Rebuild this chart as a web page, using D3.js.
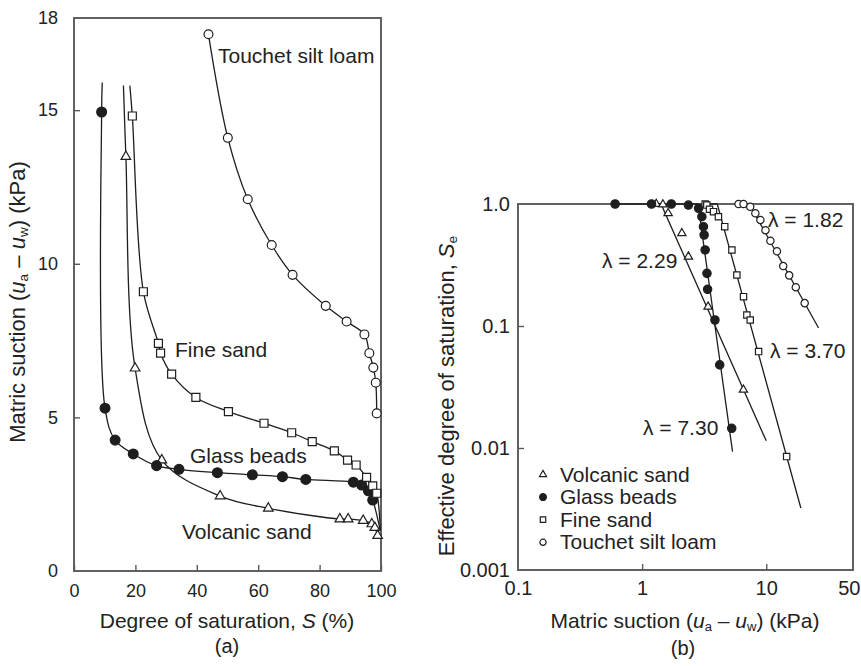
<!DOCTYPE html>
<html>
<head>
<meta charset="utf-8">
<script src="https://cdn.jsdelivr.net/npm/d3@7"></script>
<style>
  body { margin: 0; background: #fff; }
  svg { display: block; }
  text { font-family: "Liberation Sans", Arial, Helvetica, sans-serif; fill: #222; }
</style>
</head>
<body>
<svg id="fig" width="861" height="666"></svg>
<script>
// ---------- (a) matric suction vs degree of saturation ----------
const soilNames = ["Volcanic sand", "Glass beads", "Fine sand", "Touchet silt loam"];

const satVolcanic = [16.9, 19.9, 28.6, 47.6, 63.3, 86.6, 89.3, 94.2, 97.0, 98.0, 98.9];
const sucVolcanic = [13.49, 6.6, 3.61, 2.44, 2.04, 1.69, 1.69, 1.64, 1.53, 1.41, 1.15];

const satGlass = [9.0, 10.1, 13.4, 19.3, 26.9, 34.2, 46.7, 58.1, 67.9, 75.5, 91.0, 93.7, 95.9, 97.3];
const sucGlass = [14.94, 5.30, 4.26, 3.81, 3.43, 3.31, 3.20, 3.13, 3.07, 2.98, 2.89, 2.80, 2.61, 2.31];

const satFine = [19.0, 22.6, 27.5, 28.2, 31.8, 39.7, 50.3, 61.9, 70.9, 77.6, 84.8, 89.1, 91.9, 95.3, 97.3, 98.6];
const sucFine = [14.81, 9.09, 7.41, 7.09, 6.41, 5.65, 5.19, 4.81, 4.50, 4.21, 3.91, 3.61, 3.45, 3.05, 2.77, 2.53];

const satTouchet = [43.8, 50.1, 56.6, 64.4, 71.2, 82.0, 88.8, 94.6, 96.2, 97.5, 98.3, 98.6];
const sucTouchet = [17.47, 14.10, 12.10, 10.61, 9.64, 8.63, 8.12, 7.70, 7.09, 6.62, 6.13, 5.13];

// where each drawn curve continues beyond the measured points: [S, suction]
const curveHeads = [[16.1, 15.8], [9.2, 15.9], [18.2, 15.8], null];
const curveTails = [null, [99.7, 1.35], [99.8, 1.3], null];

const satTicks = [0, 20, 40, 60, 80, 100];
const suctionTicks = [0, 5, 10, 15, 18];

// ---------- (b) effective saturation vs matric suction ----------
const psiVolcanic = [1.30, 1.47, 1.62, 2.09, 2.36, 3.40, 6.55];
const seVolcanic  = [1.0, 0.99, 0.84, 0.575, 0.37, 0.144, 0.030];

const psiGlass = [0.606, 1.19, 1.72, 2.36, 2.85, 3.03, 3.12, 3.16, 3.22, 3.33, 3.37, 3.86, 4.22, 5.27];
const seGlass  = [1.0, 1.0, 1.0, 0.98, 0.922, 0.787, 0.652, 0.557, 0.42, 0.27, 0.20, 0.112, 0.048, 0.0145];

const psiFine = [3.22, 3.32, 3.49, 3.76, 4.12, 4.63, 5.29, 5.80, 6.56, 6.98, 7.43, 8.68, 14.6];
const seFine  = [1.0, 0.98, 0.905, 0.865, 0.787, 0.652, 0.42, 0.262, 0.174, 0.123, 0.112, 0.0617, 0.0085];

const psiTouchet = [5.98, 6.56, 7.43, 8.17, 8.97, 9.86, 10.8, 12.2, 13.7, 15.3, 17.3, 20.4];
const seTouchet  = [1.0, 1.0, 0.95, 0.84, 0.74, 0.61, 0.50, 0.41, 0.31, 0.26, 0.208, 0.154];

// Brooks–Corey fits: pore-size index, air-entry suction (kPa), last suction drawn (kPa)
const poreIndex   = [2.29, 7.30, 3.70, 1.82];
const airEntry    = [1.42, 2.82, 4.03, 7.30];
const fitEnd      = [10.0, 5.35, 19.0, 26.4];

const psiTicks = [0.1, 1, 10, 50];
const seTicks = [0.001, 0.01, 0.1, 1.0];

// ---------- drawing ----------
const svg = d3.select("#fig");
const ink = "#1e1e1e";
const frameColor = "#5a5a5a";

const symbolTypes = [d3.symbolTriangle, d3.symbolCircle, d3.symbolSquare, d3.symbolCircle];
const symbolFill = ["#fff", ink, "#fff", "#fff"];

function marker(g, type, fill, size) {
  return g.append("path")
    .attr("d", d3.symbol().type(type).size(size)())
    .attr("fill", fill)
    .attr("stroke", ink)
    .attr("stroke-width", 1.2);
}

// ----- panel (a)
const xA = d3.scaleLinear().domain([0, 100]).range([74, 381]);
const yA = d3.scaleLinear().domain([0, 18]).range([571, 18]);

const gA = svg.append("g");

const axA_x = gA.append("g").attr("transform", `translate(0,${yA(0)})`)
  .call(d3.axisBottom(xA).tickValues(satTicks).tickSize(-6).tickPadding(13).tickFormat(d3.format("d")));
const axA_y = gA.append("g").attr("transform", `translate(${xA(0)},0)`)
  .call(d3.axisLeft(yA).tickValues(suctionTicks).tickSize(-6).tickPadding(16).tickFormat(d3.format("d")));
[axA_x, axA_y].forEach(a => {
  a.select(".domain").remove();
  a.selectAll(".tick line").attr("stroke", frameColor).attr("stroke-width", 1.4);
  a.selectAll(".tick text").attr("font-size", 18).attr("fill", "#222");
});
axA_y.selectAll(".tick").filter(d => d === 0 || d === 18).select("line").remove();

gA.append("rect")
  .attr("x", xA(0)).attr("y", yA(18))
  .attr("width", xA(100) - xA(0)).attr("height", yA(0) - yA(18))
  .attr("fill", "none").attr("stroke", frameColor).attr("stroke-width", 1.9);

const seriesA = [
  d3.zip(satVolcanic, sucVolcanic),
  d3.zip(satGlass, sucGlass),
  d3.zip(satFine, sucFine),
  d3.zip(satTouchet, sucTouchet)
];

const lineA = d3.line()
  .x(d => xA(d[0])).y(d => yA(d[1]))
  .curve(d3.curveCatmullRom.alpha(0.5));

seriesA.forEach((pts, i) => {
  const path = [];
  if (curveHeads[i]) path.push(curveHeads[i]);
  path.push(...pts);
  if (curveTails[i]) path.push(curveTails[i]);
  gA.append("path").attr("d", lineA(path))
    .attr("fill", "none").attr("stroke", ink).attr("stroke-width", 1.3);
});

const sizeA = [40, 76, 64, 62];
seriesA.forEach((pts, i) => {
  pts.forEach(p => {
    marker(gA, symbolTypes[i], symbolFill[i], sizeA[i])
      .attr("transform", `translate(${xA(p[0])},${yA(p[1])})`);
  });
});

// curve names beside the curves
const labelA = [[182, 539], [190, 463], [175, 357], [218, 63]];
soilNames.forEach((name, i) => {
  gA.append("text").attr("x", labelA[i][0]).attr("y", labelA[i][1])
    .attr("font-size", 21).text(name);
});

// axis titles
const titleAx = gA.append("text").attr("x", 227).attr("y", 628)
  .attr("text-anchor", "middle").attr("font-size", 21);
titleAx.append("tspan").text("Degree of saturation, ");
titleAx.append("tspan").attr("font-style", "italic").text("S");
titleAx.append("tspan").text(" (%)");

gA.append("text").attr("x", 227).attr("y", 653)
  .attr("text-anchor", "middle").attr("font-size", 20).text("(a)");

function suctionTitle(sel) {
  sel.append("tspan").text("Matric suction (");
  sel.append("tspan").attr("font-style", "italic").text("u");
  sel.append("tspan").attr("baseline-shift", "-20%").attr("font-size", "62%").text("a");
  sel.append("tspan").text(" \u2013 ");
  sel.append("tspan").attr("font-style", "italic").text("u");
  sel.append("tspan").attr("baseline-shift", "-20%").attr("font-size", "62%").text("w");
  sel.append("tspan").text(") (kPa)");
}

const titleAy = gA.append("text")
  .attr("transform", "translate(25,302) rotate(-90)")
  .attr("text-anchor", "middle").attr("font-size", 22);
suctionTitle(titleAy);

// ----- panel (b)
const xB = d3.scaleLog().domain([0.1, 50]).range([518, 853]);
const yB = d3.scaleLog().domain([0.001, 1]).range([570, 204]);

const gB = svg.append("g");

const axB_x = gB.append("g").attr("transform", `translate(0,${yB(0.001)})`)
  .call(d3.axisBottom(xB).tickValues(psiTicks).tickSize(-6).tickPadding(11).tickFormat(d => String(d)));
const axB_y = gB.append("g").attr("transform", `translate(${xB(0.1)},0)`)
  .call(d3.axisLeft(yB).tickValues(seTicks).tickSize(-6).tickPadding(8)
    .tickFormat(d => d === 1 ? "1.0" : String(d)));
[axB_x, axB_y].forEach(a => {
  a.select(".domain").remove();
  a.selectAll(".tick line").attr("stroke", frameColor).attr("stroke-width", 1.4);
  a.selectAll(".tick text").attr("font-size", 20).attr("fill", "#222");
});
axB_x.selectAll(".tick").filter(d => d === 0.1 || d === 50).select("line").remove();
axB_y.selectAll(".tick").filter(d => d === 0.001 || d === 1).select("line").remove();
// keep the last label inside the page edge
axB_x.selectAll(".tick").filter(d => d === 50).select("text")
  .attr("text-anchor", "end").attr("x", 7);

gB.append("rect")
  .attr("x", xB(0.1)).attr("y", yB(1))
  .attr("width", xB(50) - xB(0.1)).attr("height", yB(0.001) - yB(1))
  .attr("fill", "none").attr("stroke", frameColor).attr("stroke-width", 1.9);

const seriesB = [
  d3.zip(psiVolcanic, seVolcanic),
  d3.zip(psiGlass, seGlass),
  d3.zip(psiFine, seFine),
  d3.zip(psiTouchet, seTouchet)
];

const lineB = d3.line().x(d => xB(d[0])).y(d => yB(d[1]));

// fitted straight lines: Se = (psi_b / psi)^lambda beyond the air-entry value
poreIndex.forEach((lam, i) => {
  const pb = airEntry[i];
  const pe = fitEnd[i];
  const pts = [[seriesB[i][0][0], 1], [pb, 1], [pe, Math.pow(pb / pe, lam)]];
  gB.append("path").attr("d", lineB(pts))
    .attr("fill", "none").attr("stroke", ink).attr("stroke-width", 1.3);
});

const sizeB = [30, 55, 40, 42];
seriesB.forEach((pts, i) => {
  pts.forEach(p => {
    marker(gB, symbolTypes[i], symbolFill[i], sizeB[i])
      .attr("transform", `translate(${xB(p[0])},${yB(p[1])})`);
  });
});

// lambda annotations
const lamPos = [[602, 268], [643, 435], [770, 358], [768, 227]];
poreIndex.forEach((lam, i) => {
  gB.append("text").attr("x", lamPos[i][0]).attr("y", lamPos[i][1])
    .attr("font-size", 21).text(`\u03bb = ${lam.toFixed(2)}`);
});

// legend
const legend = gB.append("g");
soilNames.forEach((name, i) => {
  const base = 481.5 + i * 22.6;
  marker(legend, symbolTypes[i], symbolFill[i], [22, 36, 30, 30][i])
    .attr("transform", `translate(543,${base - 7})`);
  legend.append("text").attr("x", 560).attr("y", base)
    .attr("font-size", 21).text(name);
});

// axis titles
const titleBx = gB.append("text").attr("x", 685).attr("y", 628)
  .attr("text-anchor", "middle").attr("font-size", 21);
suctionTitle(titleBx);

gB.append("text").attr("x", 683).attr("y", 655)
  .attr("text-anchor", "middle").attr("font-size", 20).text("(b)");

const titleBy = gB.append("text")
  .attr("transform", "translate(454,396) rotate(-90)")
  .attr("text-anchor", "middle").attr("font-size", 22);
titleBy.append("tspan").text("Effective degree of saturation, ");
titleBy.append("tspan").attr("font-style", "italic").text("S");
titleBy.append("tspan").attr("baseline-shift", "-20%").attr("font-size", "62%").text("e");
</script>
</body>
</html>
